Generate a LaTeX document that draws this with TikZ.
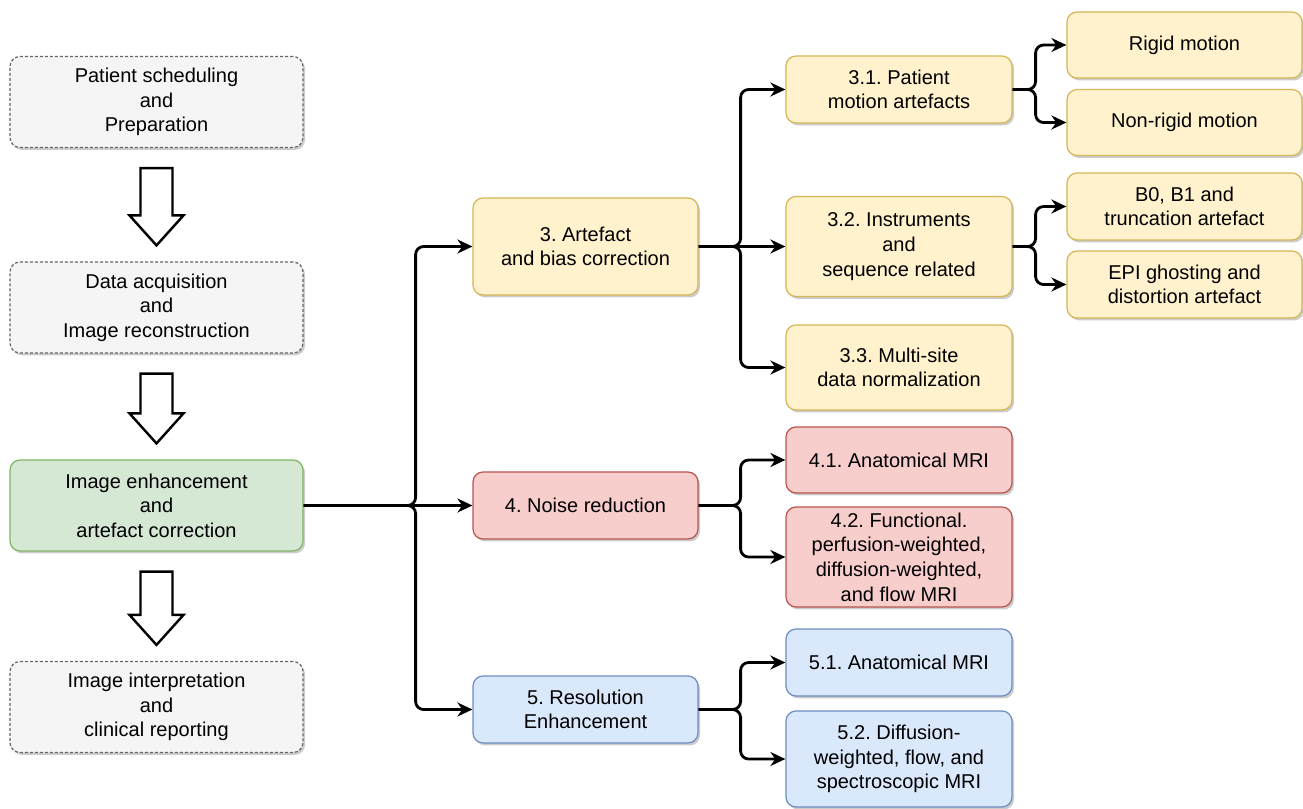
\documentclass[tikz,border=0pt]{standalone}
\usepackage{fontspec}
\setmainfont{Liberation Sans}
\usetikzlibrary{arrows.meta, calc, shadows}
\usepackage{xcolor}
\definecolor{grayfill}{HTML}{F5F5F5}
\definecolor{grayline}{HTML}{666666}
\definecolor{greenfill}{HTML}{D5E8D4}
\definecolor{greenline}{HTML}{82B366}
\definecolor{yellowfill}{HTML}{FFF2CC}
\definecolor{yellowline}{HTML}{D6B656}
\definecolor{redfill}{HTML}{F8CECC}
\definecolor{redline}{HTML}{B85450}
\definecolor{bluefill}{HTML}{DAE8FC}
\definecolor{blueline}{HTML}{6C8EBF}
\frenchspacing

\tikzset{
	box/.style={rounded corners=5pt, line width=0.6pt, align=center, inner sep=1pt,
		font=\fontsize{10}{12.3}\selectfont,
		drop shadow={shadow xshift=1pt, shadow yshift=-1.2pt, fill=black, opacity=0.2}},
	stagebox/.style={box, draw=grayline, fill=grayfill, dash pattern=on 1.5pt off 1pt,
		minimum width=146.5pt, minimum height=45.5pt},
	mainbox/.style={box, draw=greenline, fill=greenfill, minimum width=146.5pt, minimum height=45.5pt},
	artbox/.style={box, draw=yellowline, fill=yellowfill},
	noisebox/.style={box, draw=redline, fill=redfill},
	resbox/.style={box, draw=blueline, fill=bluefill},
	link/.style={line width=1.4pt, rounded corners=4pt, -{Stealth[length=7.5pt, width=7pt]}},
	hollow/.style={line width=1.2pt, draw=black, fill=white}
}

% big hollow arrow between two stacked boxes
\newcommand{\hollowarrow}[2]{%
	\draw[hollow] ($(#1.south)+(-16,20)$) -- ($(#2.north)+(-16,-46)$) -- ($(#2.north)+(-27,-46)$)
	-- ($(#2.north)+(0,-16)$) -- ($(#2.north)+(27,-46)$) -- ($(#2.north)+(16,-46)$)
	-- ($(#1.south)+(16,20)$) -- cycle;}

\begin{document}
\begin{tikzpicture}[x=0.5pt, y=-0.5pt]
	\useasboundingbox (0,0) rectangle (1303,809);
	% workflow stages
	\node[stagebox] (pat) at (156.5,102) {Patient scheduling\\and\\Preparation};
	\node[stagebox] (acq) at (156.5,307.5) {Data acquisition\\and\\Image reconstruction};
	\node[mainbox] (enh) at (156.5,505.5) {Image enhancement\\and\\artefact correction};
	\node[stagebox] (rep) at (156.5,707) {Image interpretation\\and\\clinical reporting};
	\hollowarrow{pat}{acq}
	\hollowarrow{acq}{enh}
	\hollowarrow{enh}{rep}
	% categories
	\node[artbox, minimum width=112.5pt, minimum height=48.5pt] (art) at (585.5,246.5) {3. Artefact\\and bias correction};
	\node[noisebox, minimum width=112.5pt, minimum height=33.5pt] (noise) at (585.5,505.5) {4. Noise reduction};
	\node[resbox, minimum width=112.5pt, minimum height=33.5pt] (res) at (585.5,709.5) {5. Resolution\\Enhancement};
	% artefact sub-categories
	\node[artbox, minimum width=113pt, minimum height=33.5pt] (a1) at (899,89.5) {3.1. Patient\\motion artefacts};
	\node[artbox, minimum width=113pt, minimum height=50pt] (a2) at (899,246.5) {3.2. Instruments\\and\\sequence related};
	\node[artbox, minimum width=113pt, minimum height=42.5pt] (a3) at (899,367.5) {3.3. Multi-site\\data normalization};
	\node[artbox, minimum width=117.5pt, minimum height=33pt] (rig) at (1184.5,45) {Rigid motion};
	\node[artbox, minimum width=117.5pt, minimum height=33pt] (nrig) at (1184.5,122.5) {Non-rigid motion};
	\node[artbox, minimum width=117.5pt, minimum height=33.5pt] (b0) at (1184.5,206.5) {B0, B1 and\\truncation artefact};
	\node[artbox, minimum width=117.5pt, minimum height=33.5pt] (epi) at (1184.5,284.5) {EPI ghosting and\\distortion artefact};
	% noise sub-categories
	\node[noisebox, minimum width=113pt, minimum height=33pt] (n1) at (899,460) {4.1. Anatomical MRI};
	\node[noisebox, minimum width=113pt, minimum height=50pt] (n2) at (899,557) {4.2. Functional.\\perfusion-weighted,\\diffusion-weighted,\\and flow MRI};
	% resolution sub-categories
	\node[resbox, minimum width=113pt, minimum height=33.5pt] (r1) at (899,662.5) {5.1. Anatomical MRI};
	\node[resbox, minimum width=113pt, minimum height=48pt] (r2) at (899,759) {5.2. Diffusion-\\weighted, flow, and\\spectroscopic MRI};
	% connectors
	\draw[link] (enh.east) -- ++(112,0) |- (art.west);
	\draw[link] (enh.east) -- (noise.west);
	\draw[link] (enh.east) -- ++(112,0) |- (res.west);
	\draw[link] (art.east) -- ++(42,0) |- (a1.west);
	\draw[link] (art.east) -- (a2.west);
	\draw[link] (art.east) -- ++(42,0) |- (a3.west);
	\draw[link] (a1.east) -- ++(23,0) |- (rig.west);
	\draw[link] (a1.east) -- ++(23,0) |- (nrig.west);
	\draw[link] (a2.east) -- ++(23,0) |- (b0.west);
	\draw[link] (a2.east) -- ++(23,0) |- (epi.west);
	\draw[link] (noise.east) -- ++(42,0) |- (n1.west);
	\draw[link] (noise.east) -- ++(42,0) |- (n2.west);
	\draw[link] (res.east) -- ++(42,0) |- (r1.west);
	\draw[link] (res.east) -- ++(42,0) |- (r2.west);
\end{tikzpicture}
\end{document}
